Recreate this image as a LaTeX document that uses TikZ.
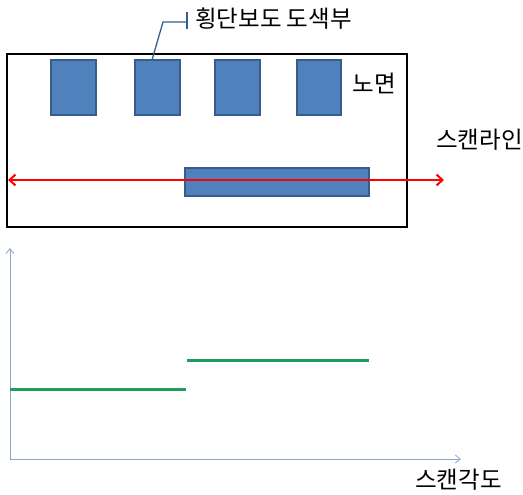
\documentclass[tikz,border=0pt]{standalone}
\usepackage{fontspec}
\setmainfont{Noto Sans CJK KR}
\usetikzlibrary{arrows.meta}
\definecolor{boxblue}{HTML}{4F81BD}
\definecolor{boxedge}{HTML}{385D8A}
\definecolor{axisblue}{HTML}{8EA4CC}
\definecolor{linegreen}{HTML}{1E9E5A}
\tikzset{
  crossing/.style={fill=boxblue, draw=boxedge, line width=1.2pt, minimum width=#1, inner sep=0pt, outer sep=0pt},
  lbl/.style={font=\fontsize{23.5}{26}\selectfont, inner sep=0pt},
  axisline/.style={draw=axisblue, line width=0.8pt, -{Straight Barb[length=5pt,width=8pt]}},
  level/.style={draw=linegreen, line width=3pt}
}
\begin{document}
\begin{tikzpicture}[x=1pt,y=-1pt]
\useasboundingbox (0,0) rectangle (523,495);
% road frame
\draw[line width=2.2pt] (7,54) rectangle (407,227);
% crossing paint blocks
\node[crossing, minimum width=45pt, minimum height=55pt] (c1) at (73.5,87.5) {};
\node[crossing, minimum width=45pt, minimum height=55pt] (c2) at (157.5,87.5) {};
\node[crossing, minimum width=45pt, minimum height=55pt] (c3) at (237.5,87.5) {};
\node[crossing, minimum width=44pt, minimum height=55pt] (c4) at (319,87.5) {};
\node[crossing, minimum width=184pt, minimum height=28pt] (bar) at (277,182) {};
% labels
\node[lbl] (road) at (374,83) {노면};
\node[lbl] (scan) at (479.5,140) {스캔라인};
\node[lbl, anchor=west] (callout) at (195,19) {횡단보도 도색부};
% callout leader
\coordinate (k1) at (163,22);
\coordinate (k2) at (187,22);
\draw[draw=boxedge, line width=1.3pt] (c2.north west) ++(17,0) -- (k1) -- (k2);
\draw[draw=boxedge, line width=1.3pt] (187,12) -- (187,29);
% scan line
\coordinate (sl) at (8,180);
\coordinate (sr) at (444,180);
\draw[red, line width=2pt, {Straight Barb[length=6pt,width=11pt]}-{Straight Barb[length=6pt,width=11pt]}] (sl) -- (sr);
% lower graph
\coordinate (o) at (10,459);
\coordinate (ytop) at (10,248);
\coordinate (xend) at (461,459);
\draw[axisline] (o) -- (ytop);
\draw[axisline] (o) -- (xend);
\coordinate (g1) at (10,389);
\coordinate (g2) at (186,389);
\coordinate (g3) at (187,360);
\coordinate (g4) at (369,360);
\draw[level] (g1) -- (g2);
\draw[level] (g3) -- (g4);
\node[lbl] (angle) at (458.5,480) {스캔각도};
\end{tikzpicture}
\end{document}
